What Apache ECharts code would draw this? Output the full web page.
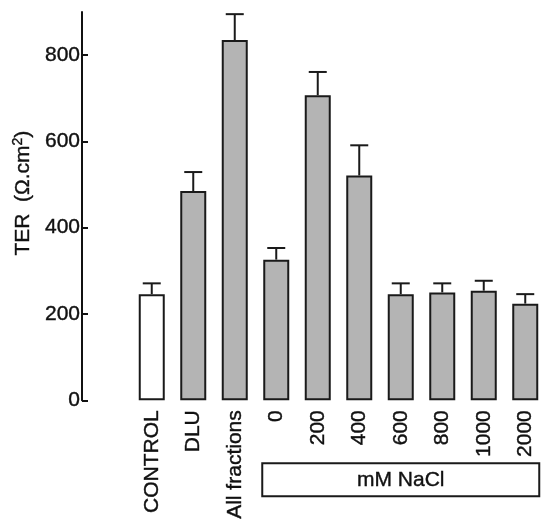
<!DOCTYPE html>
<html>
<head>
<meta charset="utf-8">
<script src="https://cdn.jsdelivr.net/npm/echarts@6/dist/echarts.min.js"></script>
<style>html,body{margin:0;padding:0;background:#fff;}#c{width:546px;height:522px;}</style>
</head>
<body>
<div id="c"></div>
<script>
var categories = ['CONTROL', 'DLU', 'All fractions', '0', '200', '400', '600', '800', '1000', '2000'];
var means = [246, 485, 835, 326, 707, 521, 246, 250, 254, 224];
var errTops = [271, 529, 895, 353, 761, 591, 271, 271, 277, 246];
var yTicks = [0, 200, 400, 600, 800];
var groupLabel = 'mM NaCl';
var groupFrom = '0', groupTo = '2000';

var FONT = '"Liberation Sans", Arial, sans-serif';
var BAR_W = 26;
var TXT = { color: '#111', textBorderColor: '#111', textBorderWidth: 0.4 };

var chart = echarts.init(document.getElementById('c'), null, {renderer: 'canvas'});

var barData = means.map(function (v, i) {
  return {
    value: v,
    itemStyle: { color: i === 0 ? '#ffffff' : '#b4b4b4' }
  };
});
var errData = means.map(function (v, i) { return [i, v, errTops[i]]; });

chart.setOption({
  animation: false,
  backgroundColor: '#ffffff',
  grid: { left: 131, right: 0, top: 12, bottom: 121, containLabel: false },
  xAxis: {
    type: 'category',
    data: categories,
    axisLine: { show: false },
    axisTick: { show: false },
    axisLabel: Object.assign({
      rotate: 90,
      margin: 10,
      fontSize: 21,
      fontFamily: FONT
    }, TXT)
  },
  yAxis: {
    type: 'value',
    min: 0,
    max: 900,
    interval: 100,
    offset: 49,
    name: 'TER  (Ω.cm{sup|2})',
    nameLocation: 'middle',
    nameGap: 46,
    nameTextStyle: {
      fontSize: 21,
      fontFamily: FONT,
      color: '#111',
      textBorderColor: '#111',
      textBorderWidth: 0.4,
      padding: [0, 0, 0, 26],
      rich: {
        sup: { fontSize: 14, fontFamily: FONT, color: '#111', verticalAlign: 'top', padding: [0, 0, 10, 0] }
      }
    },
    splitLine: { show: false },
    axisLine: { show: true, lineStyle: { color: '#111', width: 2 } },
    axisTick: { show: true, inside: true, length: 6, lineStyle: { color: '#111', width: 2 }, customValues: yTicks },
    axisLabel: Object.assign({ fontSize: 21, fontFamily: FONT, margin: 2, customValues: yTicks }, TXT)
  },
  series: [
    {
      type: 'bar',
      data: barData,
      barWidth: BAR_W,
      itemStyle: { borderColor: '#1a1a1a', borderWidth: 2 },
      z: 2
    },
    {
      type: 'custom',
      data: errData,
      z: 3,
      renderItem: function (params, api) {
        var x = api.value(0);
        var p0 = api.coord([x, api.value(1)]);
        var p1 = api.coord([x, api.value(2)]);
        var half = 9;
        var st = { stroke: '#1a1a1a', lineWidth: 2 };
        return {
          type: 'group',
          children: [
            { type: 'line', shape: { x1: p0[0], y1: p0[1], x2: p1[0], y2: p1[1] }, style: st },
            { type: 'line', shape: { x1: p1[0] - half, y1: p1[1], x2: p1[0] + half, y2: p1[1] }, style: st }
          ]
        };
      }
    }
  ]
});

// group box under the salt-concentration labels, positioned from the axis scale
var pA = chart.convertToPixel({ xAxisIndex: 0, yAxisIndex: 0 }, [groupFrom, 0]);
var pB = chart.convertToPixel({ xAxisIndex: 0, yAxisIndex: 0 }, [groupTo, 0]);
var bx0 = pA[0] - BAR_W / 2 - 1;
var bx1 = pB[0] + BAR_W / 2 + 1;
var by0 = pA[1] + 63;
var by1 = pA[1] + 96;
chart.setOption({
  graphic: [
    {
      type: 'rect',
      shape: { x: bx0, y: by0, width: bx1 - bx0, height: by1 - by0 },
      style: { fill: '#fff', stroke: '#1a1a1a', lineWidth: 2 }
    },
    {
      type: 'text',
      x: (bx0 + bx1) / 2,
      y: (by0 + by1) / 2,
      style: { text: groupLabel, fontSize: 21, fontFamily: FONT, fill: '#111', stroke: '#111', lineWidth: 0.4, align: 'center', verticalAlign: 'middle' }
    }
  ]
});
</script>
</body>
</html>
